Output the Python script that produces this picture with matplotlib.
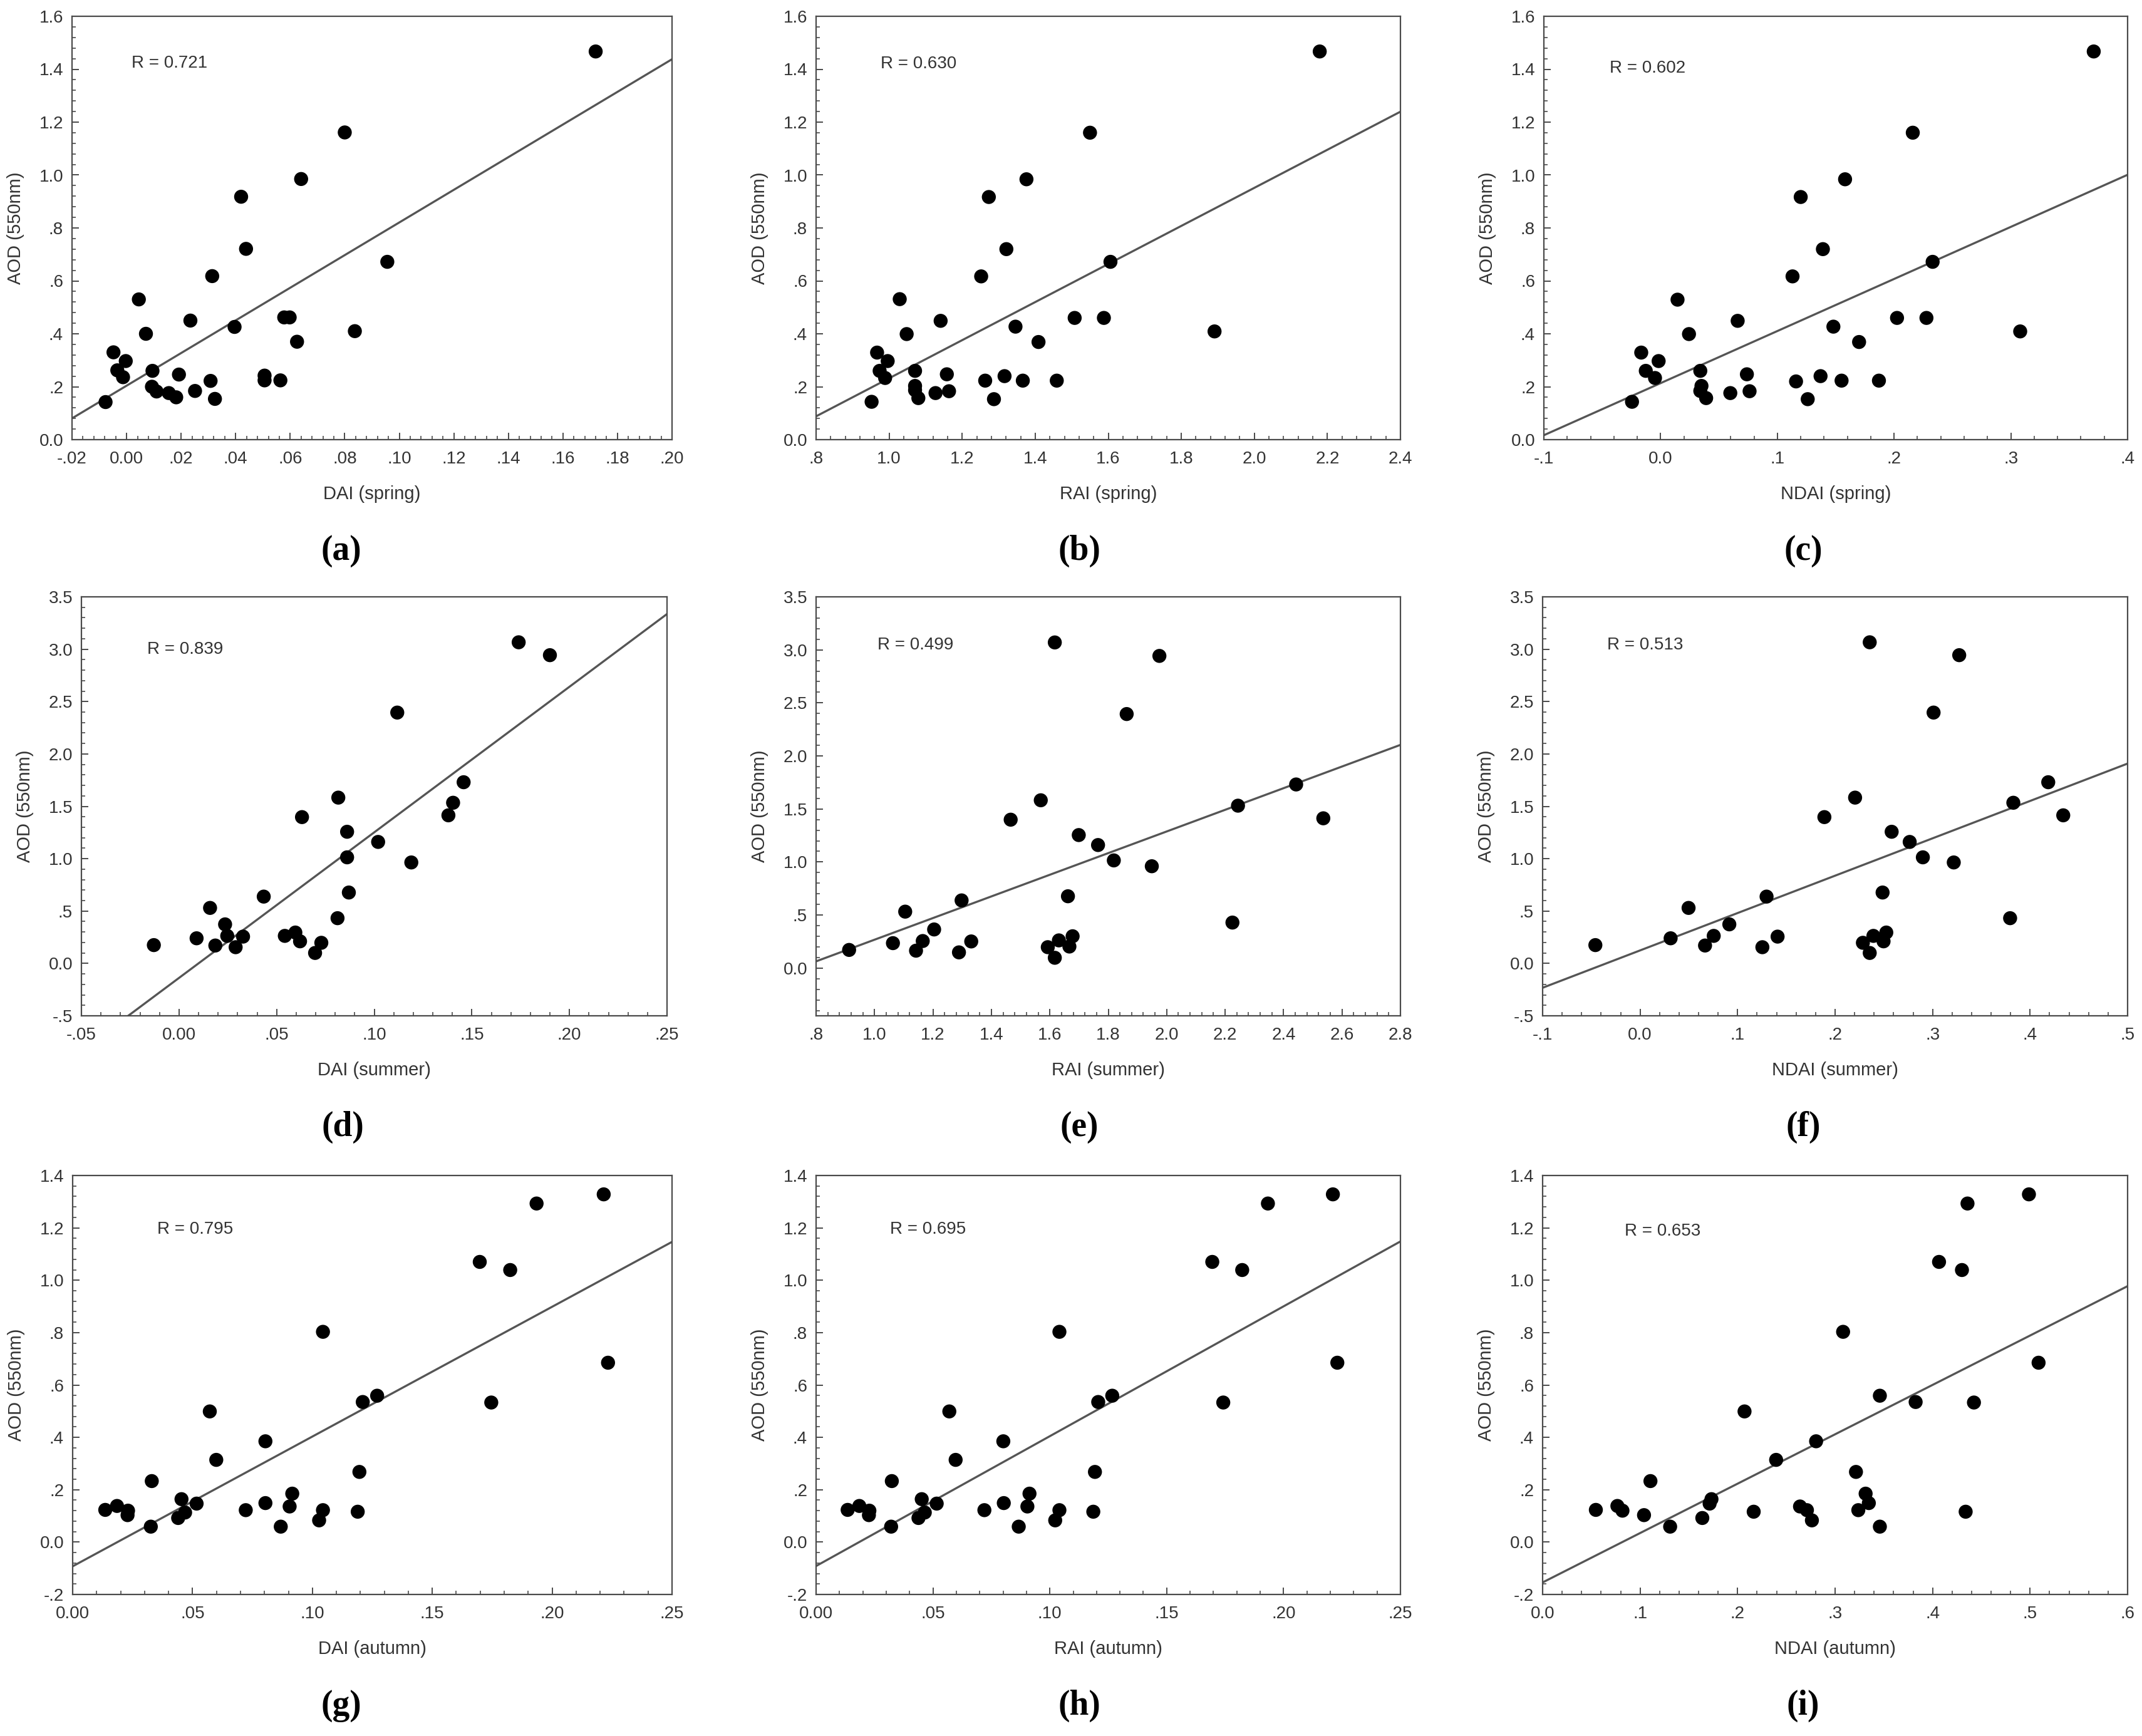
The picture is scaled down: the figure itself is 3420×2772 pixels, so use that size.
import numpy as np
import matplotlib
matplotlib.use("Agg")
import matplotlib.pyplot as plt
from matplotlib.ticker import MultipleLocator, AutoMinorLocator, FuncFormatter

plt.rcParams['font.family'] = ['Liberation Sans', 'DejaVu Sans']

# ---- data ----
# spring
x_a = [0.172, 0.080, 0.064, 0.042, 0.0438, 0.0956, 0.0314, 0.0045, 0.0234, 0.0578, 0.0598, 0.0396,
       0.0837, 0.0625, 0.0071, -0.0048, -0.0003, -0.0034, -0.0013, 0.0095, 0.0192, 0.0093, 0.011,
       0.0155, 0.0182, 0.0251, 0.0308, 0.0324, 0.0506, 0.0506, 0.0564, -0.0077]
y_a = [1.467, 1.161, 0.985, 0.918, 0.721, 0.672, 0.618, 0.530, 0.450, 0.462, 0.462, 0.426, 0.410,
       0.370, 0.400, 0.330, 0.297, 0.262, 0.236, 0.260, 0.246, 0.200, 0.182, 0.176, 0.160, 0.184,
       0.222, 0.154, 0.242, 0.224, 0.224, 0.142]
x_b = [2.179, 1.550, 1.376, 1.273, 1.321, 1.606, 1.252, 1.029, 1.141, 1.508, 1.588, 1.346, 1.891,
       1.409, 1.048, 0.967, 0.996, 0.974, 0.989, 1.071, 1.158, 1.071, 1.071, 1.127, 1.080, 1.164,
       1.263, 1.287, 1.316, 1.366, 1.459, 0.952]
y_b = [1.467, 1.160, 0.984, 0.917, 0.720, 0.672, 0.617, 0.531, 0.449, 0.460, 0.460, 0.427, 0.409,
       0.369, 0.399, 0.329, 0.297, 0.260, 0.233, 0.260, 0.247, 0.203, 0.187, 0.176, 0.157, 0.183,
       0.223, 0.153, 0.240, 0.223, 0.223, 0.143]
x_c = [0.371, 0.216, 0.158, 0.120, 0.139, 0.233, 0.113, 0.0145, 0.066, 0.2025, 0.2277, 0.148, 0.308,
       0.170, 0.0243, -0.0166, -0.0017, -0.0127, -0.0048, 0.034, 0.0739, 0.035, 0.034, 0.0597, 0.039,
       0.0762, 0.116, 0.126, 0.137, 0.155, 0.187, -0.0245]
y_c = [1.467, 1.160, 0.984, 0.917, 0.720, 0.672, 0.617, 0.529, 0.449, 0.460, 0.460, 0.427, 0.409,
       0.369, 0.399, 0.329, 0.297, 0.260, 0.233, 0.260, 0.247, 0.203, 0.184, 0.176, 0.157, 0.183,
       0.220, 0.153, 0.240, 0.223, 0.223, 0.143]

# summer
x_d = [0.174, 0.190, 0.1118, 0.1458, 0.0816, 0.1404, 0.138, 0.063, 0.0861, 0.102, 0.0861, 0.119,
       0.087, 0.0434, 0.0159, 0.0812, 0.0236, 0.0247, 0.0328, 0.0542, 0.0596, 0.062, 0.0090, 0.0186,
       0.029, 0.0729, 0.0697, -0.0129]
y_d = [3.066, 2.943, 2.395, 1.730, 1.583, 1.534, 1.414, 1.397, 1.257, 1.160, 1.013, 0.964, 0.677,
       0.638, 0.530, 0.432, 0.373, 0.263, 0.256, 0.263, 0.295, 0.211, 0.240, 0.171, 0.155, 0.197,
       0.100, 0.175]
x_e = [1.617, 1.975, 1.863, 2.443, 1.569, 2.244, 2.536, 1.466, 1.699, 1.765, 1.819, 1.949, 1.662,
       1.298, 1.105, 2.225, 1.204, 1.165, 1.331, 1.631, 1.678, 1.667, 1.063, 1.142, 1.289, 1.593,
       1.617, 0.913]
y_e = [3.070, 2.943, 2.395, 1.731, 1.582, 1.531, 1.412, 1.399, 1.254, 1.160, 1.015, 0.960, 0.677,
       0.638, 0.532, 0.429, 0.364, 0.255, 0.251, 0.261, 0.300, 0.203, 0.235, 0.164, 0.148, 0.197,
       0.097, 0.171]
x_f = [0.2355, 0.3273, 0.301, 0.4186, 0.2205, 0.3828, 0.434, 0.189, 0.258, 0.2765, 0.290, 0.3217,
       0.2487, 0.1297, 0.0497, 0.3795, 0.0915, 0.0755, 0.141, 0.2393, 0.2525, 0.2497, 0.0313, 0.0666,
       0.1254, 0.2285, 0.2355, -0.0459]
y_f = [3.066, 2.943, 2.395, 1.730, 1.583, 1.534, 1.414, 1.397, 1.257, 1.160, 1.013, 0.964, 0.677,
       0.638, 0.530, 0.432, 0.373, 0.263, 0.256, 0.263, 0.295, 0.211, 0.240, 0.171, 0.155, 0.197,
       0.100, 0.175]

# autumn
x_g = [0.2215, 0.1935, 0.1698, 0.1825, 0.1044, 0.2233, 0.127, 0.121, 0.1746, 0.0572, 0.0804, 0.0599,
       0.1196, 0.033, 0.0916, 0.0454, 0.0517, 0.0804, 0.0905, 0.0136, 0.0185, 0.0231, 0.0229, 0.0722,
       0.0469, 0.044, 0.1044, 0.1189, 0.1028, 0.0326, 0.0868]
y_g = [1.328, 1.293, 1.070, 1.039, 0.803, 0.685, 0.559, 0.535, 0.533, 0.499, 0.385, 0.314, 0.268,
       0.233, 0.185, 0.164, 0.147, 0.149, 0.136, 0.123, 0.138, 0.120, 0.103, 0.122, 0.113, 0.092,
       0.122, 0.116, 0.083, 0.059, 0.059]
x_h = [0.2211, 0.1933, 0.1695, 0.1823, 0.1041, 0.2230, 0.1267, 0.1207, 0.1742, 0.0570, 0.0801, 0.0597,
       0.1193, 0.0324, 0.0913, 0.0452, 0.0516, 0.0803, 0.0904, 0.0135, 0.0185, 0.0228, 0.0226, 0.0720,
       0.0465, 0.0438, 0.1041, 0.1186, 0.1023, 0.0321, 0.0867]
y_h = [1.328, 1.293, 1.070, 1.039, 0.803, 0.685, 0.559, 0.535, 0.533, 0.499, 0.385, 0.314, 0.268,
       0.233, 0.185, 0.164, 0.147, 0.149, 0.136, 0.123, 0.138, 0.120, 0.103, 0.122, 0.113, 0.092,
       0.122, 0.116, 0.083, 0.059, 0.059]
x_i = [0.4988, 0.4358, 0.4066, 0.4301, 0.3082, 0.5087, 0.3459, 0.3826, 0.4424, 0.2071, 0.2805, 0.2395,
       0.3214, 0.1106, 0.3313, 0.1732, 0.1713, 0.3346, 0.264, 0.0546, 0.0767, 0.0819, 0.104, 0.3238,
       0.2711, 0.1638, 0.2165, 0.4339, 0.2762, 0.1308, 0.3459]
y_i = [1.328, 1.293, 1.070, 1.039, 0.803, 0.685, 0.559, 0.535, 0.533, 0.499, 0.385, 0.314, 0.268,
       0.233, 0.185, 0.164, 0.147, 0.149, 0.136, 0.123, 0.138, 0.120, 0.103, 0.122, 0.122, 0.092,
       0.116, 0.116, 0.083, 0.059, 0.059]

xlabels = ['DAI (spring)', 'RAI (spring)', 'NDAI (spring)',
           'DAI (summer)', 'RAI (summer)', 'NDAI (summer)',
           'DAI (autumn)', 'RAI (autumn)', 'NDAI (autumn)']
r_texts = ['R = 0.721', 'R = 0.630', 'R = 0.602',
           'R = 0.839', 'R = 0.499', 'R = 0.513',
           'R = 0.795', 'R = 0.695', 'R = 0.653']
panel_tags = ['(a)', '(b)', '(c)', '(d)', '(e)', '(f)', '(g)', '(h)', '(i)']

xs = [x_a, x_b, x_c, x_d, x_e, x_f, x_g, x_h, x_i]
ys = [y_a, y_b, y_c, y_d, y_e, y_f, y_g, y_h, y_i]

# axis setup: (xmin, xmax, xstep, xdec), (ymin, ymax, ystep, ydec)
xaxes = [(-0.02, 0.20, 0.02, 2), (0.8, 2.4, 0.2, 1), (-0.1, 0.4, 0.1, 1),
         (-0.05, 0.25, 0.05, 2), (0.8, 2.8, 0.2, 1), (-0.1, 0.5, 0.1, 1),
         (0.0, 0.25, 0.05, 2), (0.0, 0.25, 0.05, 2), (0.0, 0.6, 0.1, 1)]
yaxes = [(0.0, 1.6, 0.2, 1)] * 3 + [(-0.5, 3.5, 0.5, 1), (-0.45, 3.5, 0.5, 1), (-0.5, 3.5, 0.5, 1)] \
        + [(-0.2, 1.4, 0.2, 1)] * 3
r_pos = [(0.099, 0.889), (0.110, 0.887), (0.113, 0.877),
         (0.112, 0.874), (0.105, 0.885), (0.110, 0.885),
         (0.141, 0.872), (0.127, 0.872), (0.140, 0.867)]

# layout in pixels of the 3420x2772 image: (left, right, top, bottom)
W, H = 3420, 2772
boxes = [(115, 1073, 26, 702), (1303, 2236, 26, 702), (2465, 3397, 26, 702),
         (130, 1065, 953, 1622), (1303, 2236, 953, 1622), (2463, 3397, 953, 1622),
         (116, 1073, 1877, 2546), (1303, 2236, 1877, 2546), (2463, 3397, 1877, 2546)]
tag_pos = [(545, 880), (1723, 880), (2879, 880),
           (547, 1800), (1723, 1800), (2879, 1800),
           (545, 2724), (1723, 2724), (2879, 2724)]

TEXT = '#333333'
EDGE = '#4a4a4a'


def make_fmt(dec):
    def f(v, pos):
        v = round(v, dec + 2)
        if abs(v) < 1e-9:
            return f"{0:.{dec}f}"
        s = f"{v:.{dec}f}"
        if abs(v) < 1:
            s = s.replace("0.", ".", 1)
        return s
    return f


fig = plt.figure(figsize=(W / 100, H / 100), dpi=100)

for k in range(9):
    l, r, t, b = boxes[k]
    ax = fig.add_axes([l / W, 1 - b / H, (r - l) / W, (b - t) / H])
    x = np.array(xs[k])
    y = np.array(ys[k])
    x0, x1, xst, xd = xaxes[k]
    y0, y1, yst, yd = yaxes[k]

    ax.scatter(x, y, s=260, color='black', edgecolors='none', zorder=3)
    slope, icpt = np.polyfit(x, y, 1)
    xx = np.array([x0, x1])
    ax.plot(xx, slope * xx + icpt, color='#555555', lw=2.4, zorder=2)

    ax.set_xlim(x0, x1)
    ax.set_ylim(y0, y1)
    ax.xaxis.set_major_locator(MultipleLocator(xst))
    ax.yaxis.set_major_locator(MultipleLocator(yst))
    ax.xaxis.set_minor_locator(AutoMinorLocator(5))
    ax.yaxis.set_minor_locator(AutoMinorLocator(5))
    ax.xaxis.set_major_formatter(FuncFormatter(make_fmt(xd)))
    ax.yaxis.set_major_formatter(FuncFormatter(make_fmt(yd)))
    ax.tick_params(which='both', direction='in', colors=EDGE, labelcolor=TEXT, labelsize=20)
    ax.tick_params(which='major', length=8, width=1.4)
    ax.tick_params(which='minor', length=4.5, width=1.2)
    ax.tick_params(axis='x', pad=13)
    ax.tick_params(axis='y', pad=10)
    for sp in ax.spines.values():
        sp.set_color(EDGE)
        sp.set_linewidth(1.6)

    wpx, hpx = r - l, b - t
    ax.set_xlabel(xlabels[k], fontsize=21, color=TEXT, va='center')
    ax.xaxis.set_label_coords(0.5, -87 / hpx)
    ax.set_ylabel('AOD (550nm)', fontsize=21, color=TEXT, va='center')
    ax.yaxis.set_label_coords(-90 / wpx, 0.5)

    ax.text(r_pos[k][0], r_pos[k][1], r_texts[k], transform=ax.transAxes,
            fontsize=20, color=TEXT, ha='left', va='center')

    tx, ty = tag_pos[k]
    fig.text(tx / W, 1 - ty / H, panel_tags[k], ha='center', va='center',
             fontsize=40, fontweight='bold', family=['Liberation Serif', 'DejaVu Serif'])

fig.savefig('out.png', dpi=100, facecolor='white')
